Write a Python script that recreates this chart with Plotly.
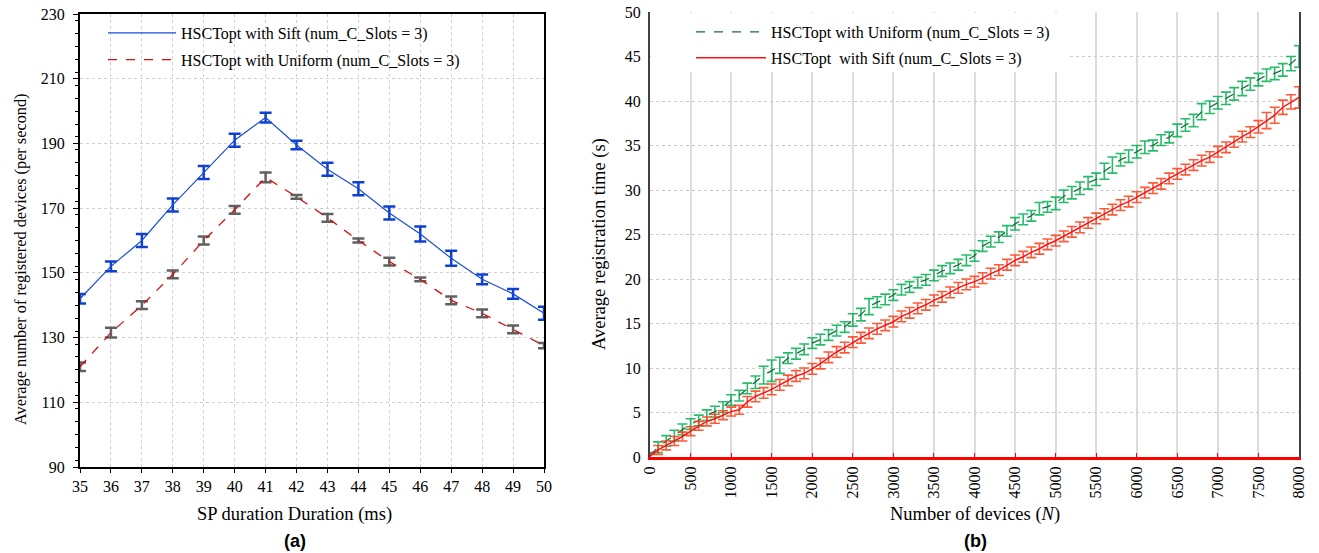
import plotly.graph_objects as go

# ---------------- data: panel (a) ----------------
sp_duration = [35, 36, 37, 38, 39, 40, 41, 42, 43, 44, 45, 46, 47, 48, 49, 50]
sift_a = [142, 152, 160, 171, 181, 191, 198, 189.5, 182, 176, 168.5, 162, 154.5, 148, 143.5, 137.5]
sift_a_err = [1.5, 1.5, 2.0, 2.0, 2.0, 2.0, 1.5, 1.3, 2.0, 2.0, 2.0, 2.3, 2.3, 1.5, 1.5, 2.0]
unif_a = [121, 131.5, 140, 149.5, 160, 169.5, 179.5, 173.5, 167, 160, 153.5, 148, 141.5, 137.5, 132.5, 127.5]
unif_a_err = [1.3, 1.5, 1.2, 1.2, 1.2, 1.2, 1.5, 0.6, 1.2, 0.6, 1.2, 0.6, 1.2, 1.2, 1.2, 0.8]

# ---------------- data: panel (b) ----------------
devices = list(range(0, 8001, 100))
unif_b = [0.2, 1.1, 1.8, 2.4, 3.1, 3.7, 4.1, 4.7, 5.1, 5.6,
          6.4, 6.9, 7.7, 8.4, 9.2, 9.7, 10.3, 11.1, 11.6, 12.1,
          12.8, 13.2, 13.7, 14.2, 14.6, 15.4, 16.0, 16.9, 17.4, 17.7,
          18.2, 18.8, 19.1, 19.6, 19.9, 20.4, 20.9, 21.2, 21.6, 22.1,
          22.6, 23.7, 24.2, 24.7, 25.4, 26.2, 26.7, 27.1, 27.9, 28.1,
          28.5, 29.3, 29.7, 30.2, 30.8, 31.2, 32.1, 32.8, 33.4, 33.8,
          34.3, 34.8, 35.0, 35.6, 35.9, 36.7, 37.3, 37.8, 38.8, 39.3,
          39.8, 40.3, 40.8, 41.4, 41.9, 42.4, 42.9, 43.1, 43.5, 44.2,
          45.0]
unif_b_err = [0.3, 0.6, 0.6, 0.6, 0.6, 0.6, 0.6, 0.6, 0.6, 0.6,
              0.6, 0.6, 0.6, 0.7, 1.0, 1.2, 0.9, 0.6, 0.6, 0.6,
              0.6, 0.6, 0.6, 0.6, 0.6, 0.7, 0.7, 0.9, 0.6, 0.6,
              0.6, 0.6, 0.6, 0.6, 0.6, 0.6, 0.6, 0.6, 0.6, 0.6,
              0.6, 0.6, 0.6, 0.6, 0.6, 0.7, 0.6, 0.6, 0.7, 0.6,
              0.7, 0.7, 0.7, 0.7, 0.7, 0.7, 0.9, 0.9, 0.7, 0.7,
              0.7, 0.7, 0.6, 0.6, 0.6, 0.7, 0.7, 0.7, 0.9, 0.7,
              0.7, 0.7, 0.7, 0.8, 0.7, 0.7, 0.7, 0.7, 0.7, 0.8,
              1.2]
sift_b = [0.1, 0.8, 1.3, 1.8, 2.3, 2.9, 3.5, 4.0, 4.3, 4.7,
          5.1, 5.3, 6.2, 6.8, 7.2, 7.6, 8.1, 8.6, 9.1, 9.4,
          9.9, 10.5, 11.2, 11.8, 12.3, 12.9, 13.4, 13.9, 14.4, 14.8,
          15.2, 15.8, 16.2, 16.7, 17.1, 17.6, 18.0, 18.5, 19.0, 19.4,
          19.7, 20.1, 20.6, 21.0, 21.6, 22.1, 22.5, 23.0, 23.4, 23.9,
          24.3, 24.8, 25.3, 25.8, 26.3, 26.8, 27.3, 27.8, 28.3, 28.7,
          29.2, 29.7, 30.2, 30.7, 31.3, 31.8, 32.3, 32.8, 33.3, 33.7,
          34.3, 34.8, 35.4, 36.0, 36.5, 37.1, 37.8, 38.4, 39.3, 39.9,
          40.4]
sift_b_err = [0.3, 0.5, 0.5, 0.5, 0.5, 0.5, 0.5, 0.5, 0.5, 0.5,
              0.5, 0.5, 0.6, 0.6, 0.6, 0.6, 0.6, 0.6, 0.6, 0.6,
              0.6, 0.6, 0.6, 0.6, 0.6, 0.6, 0.6, 0.6, 0.6, 0.6,
              0.6, 0.6, 0.6, 0.6, 0.6, 0.6, 0.6, 0.6, 0.6, 0.6,
              0.6, 0.6, 0.6, 0.6, 0.6, 0.6, 0.6, 0.6, 0.6, 0.6,
              0.6, 0.6, 0.6, 0.6, 0.6, 0.6, 0.6, 0.6, 0.6, 0.6,
              0.6, 0.6, 0.6, 0.6, 0.6, 0.6, 0.6, 0.6, 0.6, 0.6,
              0.6, 0.6, 0.6, 0.6, 0.6, 0.7, 0.9, 0.9, 0.8, 0.8,
              1.2]

SERIF = "Liberation Serif, Times New Roman, serif"
SANS = "Liberation Sans, Arial, sans-serif"
W, H = 1319, 553

fig = go.Figure()

# panel (a)
fig.add_trace(go.Scatter(
    x=sp_duration, y=sift_a, mode="lines", name="HSCTopt with Sift (num_C_Slots = 3)",
    line=dict(color="#1a4fd6", width=1.2),
    error_y=dict(type="data", array=sift_a_err, visible=True, color="#1040d0", thickness=2.5, width=6),
    xaxis="x", yaxis="y", legend="legend", legendgroup="a1"))
fig.add_trace(go.Scatter(
    x=sp_duration, y=unif_a, mode="lines", name="HSCTopt with Uniform (num_C_Slots = 3)",
    line=dict(color="#d01010", width=1.3, dash="dash"),
    error_y=dict(type="data", array=unif_a_err, visible=True, color="#606060", thickness=2.5, width=6),
    xaxis="x", yaxis="y", legend="legend", legendgroup="a2"))

# panel (b)
fig.add_trace(go.Scatter(
    x=devices, y=unif_b, mode="lines", name="HSCTopt with Uniform (num_C_Slots = 3)",
    line=dict(color="#1d6b3c", width=1.3, dash="dash"),
    error_y=dict(type="data", array=unif_b_err, visible=True, color="rgba(0,176,80,0.85)", thickness=1.6, width=5),
    xaxis="x2", yaxis="y2", legend="legend2", legendgroup="b1"))
fig.add_trace(go.Scatter(
    x=devices, y=sift_b, mode="lines", name="HSCTopt  with Sift (num_C_Slots = 3)",
    line=dict(color="#ff1010", width=1.5),
    error_y=dict(type="data", array=sift_b_err, visible=True, color="rgba(255,60,20,0.85)", thickness=1.6, width=5),
    xaxis="x2", yaxis="y2", legend="legend2", legendgroup="b2"))

tickfont = dict(family=SERIF, size=16, color="#000")

fig.update_layout(
    width=W, height=H,
    margin=dict(l=0, r=0, t=0, b=0, autoexpand=False),
    paper_bgcolor="white", plot_bgcolor="white",
    font=dict(family=SERIF, size=16, color="#000"),
    xaxis=dict(domain=[80/W, 544/W], range=[35, 50], dtick=1, tick0=35,
               showgrid=True, gridcolor="#d0d0d0", griddash="dot", gridwidth=1,
               showline=True, linecolor="#000", linewidth=2, mirror=True,
               ticks="outside", ticklen=4, tickcolor="#000", tickfont=tickfont,
               zeroline=False, anchor="y", automargin=False),
    yaxis=dict(domain=[1 - 467/H, 1 - 14/H], range=[90, 230], dtick=20, tick0=90,
               showgrid=True, gridcolor="#d0d0d0", griddash="dot", gridwidth=1,
               showline=True, linecolor="#000", linewidth=2, mirror=True,
               ticks="outside", ticklen=5, tickcolor="#000", tickfont=tickfont,
               ticklabelstandoff=5,
               minor=dict(dtick=4, ticks="outside", ticklen=3, tickcolor="#000", showgrid=False),
               zeroline=False, anchor="x", automargin=False),
    xaxis2=dict(domain=[650/W, 1299/W], range=[0, 8000], dtick=500, tick0=0,
                showgrid=True, gridcolor="#dcdcdc", gridwidth=2,
                showline=True, linecolor="#ff0000", linewidth=3, mirror=False,
                ticks="inside", ticklen=4, tickcolor="#ff0000", tickangle=-90, tickfont=tickfont,
                zeroline=False, anchor="y2", automargin=False),
    yaxis2=dict(domain=[1 - 457/H, 1 - 12/H], range=[0, 50], dtick=5, tick0=0,
                showgrid=True, gridcolor="#cccccc", griddash="dot", gridwidth=1,
                showline=True, linecolor="#404040", linewidth=2, mirror=True,
                ticks="", tickfont=tickfont, ticklabelstandoff=4,
                zeroline=False, anchor="x2", automargin=False),
    legend=dict(x=103/W, y=1 - 16/H, xanchor="left", yanchor="top",
                bgcolor="rgba(0,0,0,0)", borderwidth=0, itemwidth=68,
                font=dict(family=SERIF, size=16, color="#000"), tracegroupgap=3,
                traceorder="grouped"),
    legend2=dict(x=691/W, y=1 - 15/H, xanchor="left", yanchor="top",
                 bgcolor="rgba(0,0,0,0)", borderwidth=0, itemwidth=70,
                 font=dict(family=SERIF, size=16, color="#000"), tracegroupgap=2,
                 traceorder="grouped"),
    showlegend=True,
    shapes=[dict(type="rect", xref="paper", yref="paper",
                 x0=651/W, x1=1070/W, y0=1 - 72/H, y1=1 - 13/H,
                 fillcolor="white", line=dict(width=0), layer="above")],
)

annotations = [
    dict(text="Average number of registered devices (per second)", x=20/W, y=1 - 259/H,
         xref="paper", yref="paper", textangle=-90, showarrow=False,
         font=dict(family=SERIF, size=16.3, color="#000"), xanchor="center", yanchor="middle"),
    dict(text="SP duration Duration (ms)", x=294/W, y=1 - 514/H, xref="paper", yref="paper",
         showarrow=False, font=dict(family=SERIF, size=18.5, color="#000"), xanchor="center", yanchor="middle"),
    dict(text="<b>(a)</b>", x=295/W, y=1 - 541/H, xref="paper", yref="paper",
         showarrow=False, font=dict(family=SANS, size=18, color="#000"), xanchor="center", yanchor="middle"),
    dict(text="Average registration time (s)", x=599/W, y=1 - 244/H,
         xref="paper", yref="paper", textangle=-90, showarrow=False,
         font=dict(family=SERIF, size=18.5, color="#000"), xanchor="center", yanchor="middle"),
    dict(text="Number of devices (<i>N</i>)", x=975/W, y=1 - 514/H, xref="paper", yref="paper",
         showarrow=False, font=dict(family=SERIF, size=18.5, color="#000"), xanchor="center", yanchor="middle"),
    dict(text="<b>(b)</b>", x=975/W, y=1 - 541/H, xref="paper", yref="paper",
         showarrow=False, font=dict(family=SANS, size=18, color="#000"), xanchor="center", yanchor="middle"),
]
fig.update_layout(annotations=annotations)

fig.write_html("out.html", config={"displayModeBar": False},
               post_script="document.body.style.margin='0px';document.body.style.overflow='hidden';")
